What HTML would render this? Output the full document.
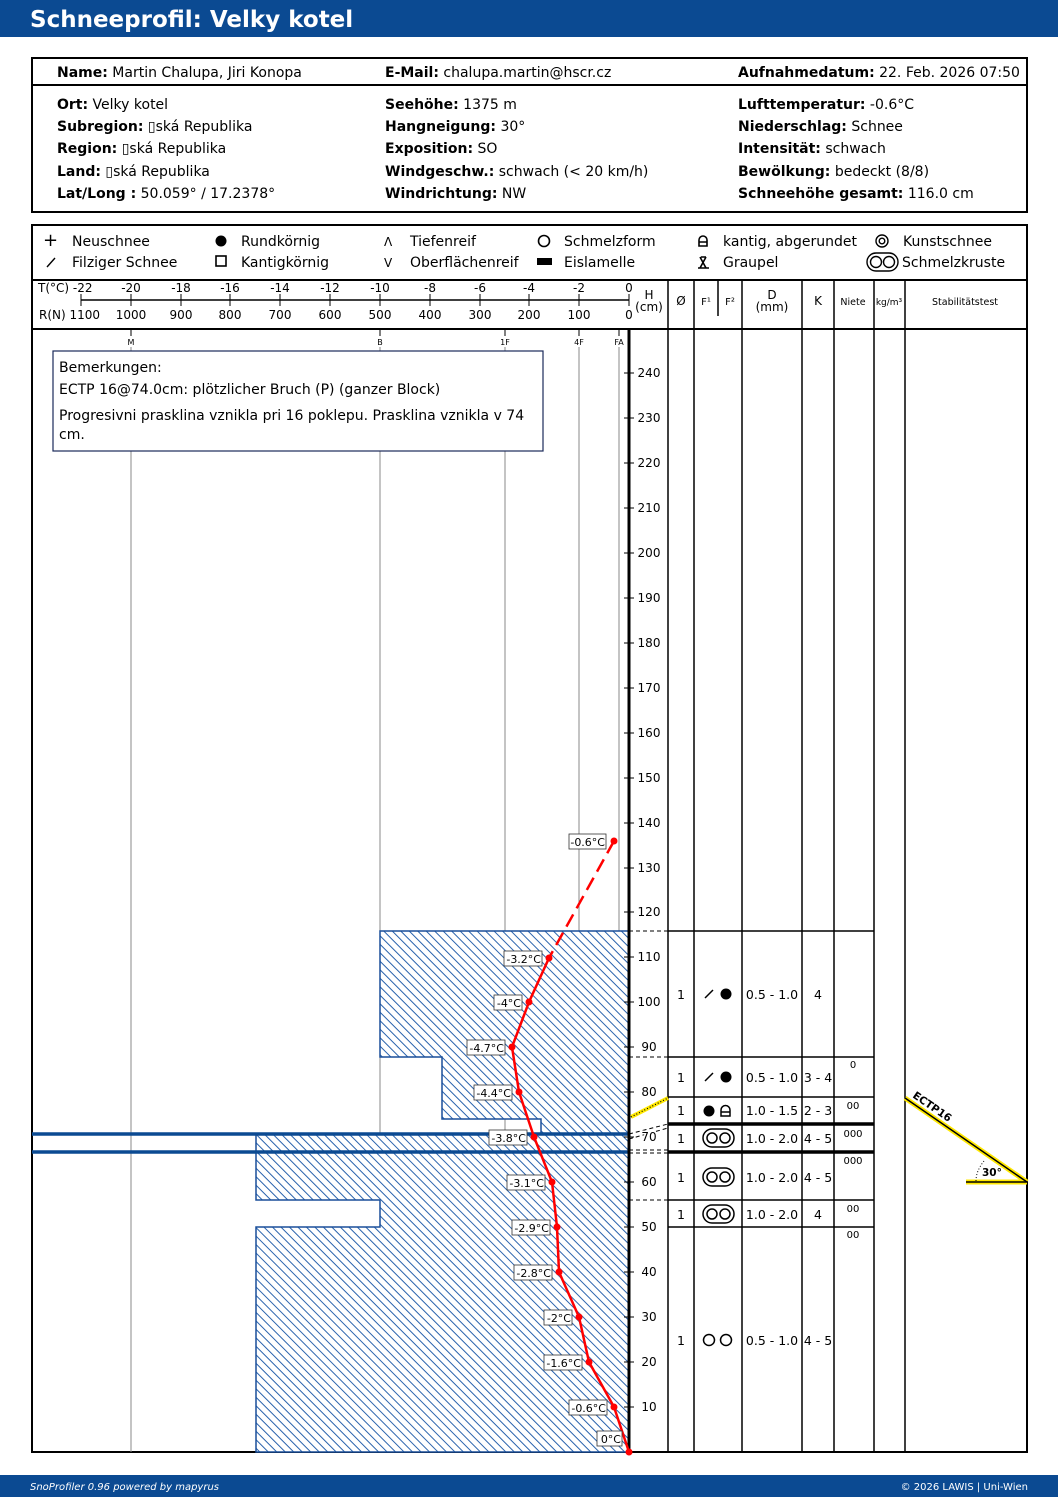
<!DOCTYPE html>
<html><head><meta charset="utf-8"><style>
html,body{margin:0;padding:0;background:#fff}
svg{display:block}
text{font-family:"DejaVu Sans","Liberation Sans",sans-serif;fill:#000}
</style></head><body>
<svg width="1058" height="1497" viewBox="0 0 1058 1497" xmlns="http://www.w3.org/2000/svg">
<defs>
<pattern id="h" patternUnits="userSpaceOnUse" width="6" height="6" patternTransform="rotate(45)">
<rect width="6" height="6" fill="#fff"/>
<line x1="0" y1="3" x2="6" y2="3" stroke="#2a63ad" stroke-width="1"/>
</pattern>
</defs>
<rect x="0" y="0" width="1058" height="37" fill="#0b4a92"/>
<text x="30" y="27" font-size="23" font-weight="bold" style="fill:#fff">Schneeprofil: Velky kotel</text>
<rect x="0" y="1475" width="1058" height="22" fill="#0b4a92"/>
<text x="30" y="1490" font-size="10" font-style="italic" style="fill:#fff">SnoProfiler 0.96 powered by mapyrus</text>
<text x="1028" y="1490" font-size="10" text-anchor="end" style="fill:#fff">© 2026 LAWIS | Uni-Wien</text>

<rect x="32" y="58" width="995" height="154" fill="none" stroke="#000" stroke-width="2"/>
<line x1="32" y1="85" x2="1027" y2="85" stroke="#000" stroke-width="2"/>
<g font-size="14">
<text x="57" y="77"><tspan font-weight="bold">Name:</tspan> Martin Chalupa, Jiri Konopa</text>
<text x="385" y="77"><tspan font-weight="bold">E-Mail:</tspan> chalupa.martin@hscr.cz</text>
<text x="738" y="77"><tspan font-weight="bold">Aufnahmedatum:</tspan> 22. Feb. 2026 07:50</text>
<text x="57" y="109"><tspan font-weight="bold">Ort:</tspan> Velky kotel</text>
<text x="57" y="131"><tspan font-weight="bold">Subregion:</tspan> ▯ská Republika</text>
<text x="57" y="153"><tspan font-weight="bold">Region:</tspan> ▯ská Republika</text>
<text x="57" y="176"><tspan font-weight="bold">Land:</tspan> ▯ská Republika</text>
<text x="57" y="198"><tspan font-weight="bold">Lat/Long :</tspan> 50.059° / 17.2378°</text>
<text x="385" y="109"><tspan font-weight="bold">Seehöhe:</tspan> 1375 m</text>
<text x="385" y="131"><tspan font-weight="bold">Hangneigung:</tspan> 30°</text>
<text x="385" y="153"><tspan font-weight="bold">Exposition:</tspan> SO</text>
<text x="385" y="176"><tspan font-weight="bold">Windgeschw.:</tspan> schwach (&lt; 20 km/h)</text>
<text x="385" y="198"><tspan font-weight="bold">Windrichtung:</tspan> NW</text>
<text x="738" y="109"><tspan font-weight="bold">Lufttemperatur:</tspan> -0.6°C</text>
<text x="738" y="131"><tspan font-weight="bold">Niederschlag:</tspan> Schnee</text>
<text x="738" y="153"><tspan font-weight="bold">Intensität:</tspan> schwach</text>
<text x="738" y="176"><tspan font-weight="bold">Bewölkung:</tspan> bedeckt (8/8)</text>
<text x="738" y="198"><tspan font-weight="bold">Schneehöhe gesamt:</tspan> 116.0 cm</text>
</g>

<g font-size="14">
<text x="43" y="246" font-size="18">+</text><text x="72" y="246">Neuschnee</text>
<line x1="47" y1="267" x2="55" y2="258" stroke="#000" stroke-width="1.4"/><text x="72" y="267">Filziger Schnee</text>
<circle cx="221" cy="241" r="5.5"/><text x="241" y="246">Rundkörnig</text>
<rect x="216" y="256" width="10" height="10" fill="none" stroke="#000" stroke-width="1.6"/><text x="241" y="267">Kantigkörnig</text>
<text x="384" y="246" font-size="12">Λ</text><text x="410" y="246">Tiefenreif</text>
<text x="384" y="267" font-size="12">V</text><text x="410" y="267">Oberflächenreif</text>
<circle cx="544" cy="241" r="5.5" fill="none" stroke="#000" stroke-width="1.6"/><text x="564" y="246">Schmelzform</text>
<rect x="537" y="258" width="15" height="7"/><text x="564" y="267">Eislamelle</text>
<path d="M699 246v-6a4 4 0 0 1 8 0v6zM699 242h8" fill="none" stroke="#000" stroke-width="1.6"/><text x="723" y="246">kantig, abgerundet</text>
<path d="M698 268h11M700 257l6 11M706 257l-6 11M701 257h5" stroke="#000" stroke-width="1.6"/><text x="723" y="267">Graupel</text>
<circle cx="882" cy="241" r="6" fill="none" stroke="#000" stroke-width="1.4"/><circle cx="882" cy="241" r="2.8" fill="none" stroke="#000" stroke-width="1.4"/><text x="903" y="246">Kunstschnee</text>
<rect x="867" y="253" width="31" height="18" rx="9" fill="none" stroke="#000" stroke-width="1.4"/><circle cx="876" cy="262" r="5.5" fill="none" stroke="#000" stroke-width="1.4"/><circle cx="889" cy="262" r="5.5" fill="none" stroke="#000" stroke-width="1.4"/><text x="902" y="267">Schmelzkruste</text>
</g>

<rect x="32" y="225" width="995" height="1227" fill="none" stroke="#000" stroke-width="2"/>
<line x1="32" y1="280" x2="1027" y2="280" stroke="#000" stroke-width="2"/>
<line x1="32" y1="329" x2="1027" y2="329" stroke="#000" stroke-width="2"/>

<line x1="81" y1="300" x2="629" y2="300" stroke="#000" stroke-width="1.5"/>
<g stroke="#000" stroke-width="1">
<line x1="81" y1="294" x2="81" y2="306"/><line x1="131" y1="294" x2="131" y2="306"/><line x1="181" y1="294" x2="181" y2="306"/><line x1="230" y1="294" x2="230" y2="306"/><line x1="280" y1="294" x2="280" y2="306"/><line x1="330" y1="294" x2="330" y2="306"/><line x1="380" y1="294" x2="380" y2="306"/><line x1="430" y1="294" x2="430" y2="306"/><line x1="480" y1="294" x2="480" y2="306"/><line x1="529" y1="294" x2="529" y2="306"/><line x1="579" y1="294" x2="579" y2="306"/><line x1="629" y1="294" x2="629" y2="306"/>
</g>
<g font-size="12" text-anchor="middle">
<text x="38" y="292" text-anchor="start">T(°C) -22</text><text x="131" y="292">-20</text><text x="181" y="292">-18</text><text x="230" y="292">-16</text><text x="280" y="292">-14</text><text x="330" y="292">-12</text><text x="380" y="292">-10</text><text x="430" y="292">-8</text><text x="480" y="292">-6</text><text x="529" y="292">-4</text><text x="579" y="292">-2</text><text x="629" y="292">0</text>
<text x="39" y="319" text-anchor="start">R(N) 1100</text><text x="131" y="319">1000</text><text x="181" y="319">900</text><text x="230" y="319">800</text><text x="280" y="319">700</text><text x="330" y="319">600</text><text x="380" y="319">500</text><text x="430" y="319">400</text><text x="480" y="319">300</text><text x="529" y="319">200</text><text x="579" y="319">100</text><text x="629" y="319">0</text>
<text x="649" y="299">H</text><text x="649" y="311">(cm)</text>
<text x="681" y="305">Ø</text>
<text x="706" y="305" font-size="10">F¹</text><text x="730" y="305" font-size="10">F²</text>
<text x="772" y="299">D</text><text x="772" y="311">(mm)</text>
<text x="818" y="305">K</text>
<text x="853" y="305" font-size="9.5">Niete</text>
<text x="889" y="305" font-size="9">kg/m³</text>
<text x="965" y="305" font-size="9.5">Stabilitätstest</text>
</g>
<line x1="718" y1="280" x2="718" y2="316" stroke="#000" stroke-width="1.5"/>

<g stroke="#888" stroke-width="1">
<line x1="131" y1="347" x2="131" y2="1452"/><line x1="380" y1="347" x2="380" y2="1452"/><line x1="505" y1="347" x2="505" y2="1452"/><line x1="579" y1="347" x2="579" y2="1452"/><line x1="619" y1="347" x2="619" y2="1452"/>
</g>
<g stroke="#000" stroke-width="1"><line x1="131" y1="329" x2="131" y2="336"/><line x1="380" y1="329" x2="380" y2="336"/><line x1="505" y1="329" x2="505" y2="336"/><line x1="579" y1="329" x2="579" y2="336"/><line x1="619" y1="329" x2="619" y2="336"/></g>
<g font-size="8" text-anchor="middle"><text x="131" y="345">M</text><text x="380" y="345">B</text><text x="505" y="345">1F</text><text x="579" y="345">4F</text><text x="619" y="345">FA</text></g>

<path d="M380 931H629V1452H256V1227H380V1200H256V1134H541V1119H442V1057H380Z" fill="url(#h)" stroke="#1a4f9a" stroke-width="1.5"/>
<line x1="32" y1="1134" x2="629" y2="1134" stroke="#0b4a92" stroke-width="3.5"/>
<line x1="32" y1="1152" x2="629" y2="1152" stroke="#0b4a92" stroke-width="3.5"/>

<rect x="53" y="351" width="490" height="100" fill="#fff" stroke="#1a2a5a" stroke-width="1.2"/>
<g font-size="14"><text x="59" y="372">Bemerkungen:</text><text x="59" y="394">ECTP 16@74.0cm: plötzlicher Bruch (P) (ganzer Block)</text><text x="59" y="420">Progresivni prasklina vznikla pri 16 poklepu. Prasklina vznikla v 74</text><text x="59" y="439">cm.</text></g>

<g stroke="#000" stroke-width="1.5">
<line x1="629" y1="329" x2="629" y2="1452" stroke-width="3"/>
<line x1="668" y1="280" x2="668" y2="1452"/><line x1="694" y1="280" x2="694" y2="1452"/><line x1="742" y1="280" x2="742" y2="1452"/><line x1="802" y1="280" x2="802" y2="1452"/><line x1="834" y1="280" x2="834" y2="1452"/><line x1="874" y1="280" x2="874" y2="1452"/><line x1="905" y1="280" x2="905" y2="1452"/>
</g>
<g stroke="#000" stroke-width="1.5">
<line x1="668" y1="931" x2="874" y2="931"/><line x1="668" y1="1057" x2="874" y2="1057"/><line x1="668" y1="1097" x2="874" y2="1097"/>
<line x1="668" y1="1124" x2="874" y2="1124" stroke-width="3.5"/><line x1="668" y1="1152" x2="874" y2="1152" stroke-width="3.5"/>
<line x1="668" y1="1200" x2="874" y2="1200"/><line x1="668" y1="1227" x2="874" y2="1227"/>
</g>
<g stroke="#000" stroke-width="1" stroke-dasharray="4,3">
<line x1="629" y1="931" x2="668" y2="931"/><line x1="629" y1="1057" x2="668" y2="1057"/><line x1="629" y1="1134" x2="668" y2="1124"/><line x1="629" y1="1139" x2="668" y2="1128"/><line x1="629" y1="1150" x2="668" y2="1150"/><line x1="629" y1="1153" x2="668" y2="1153"/><line x1="629" y1="1200" x2="668" y2="1200"/>
</g>
<line x1="631" y1="1117" x2="668" y2="1098" stroke="#ffe800" stroke-width="4"/>
<line x1="631" y1="1117" x2="668" y2="1098" stroke="#000" stroke-width="1.2" stroke-dasharray="1,2"/>

<g stroke="#000" stroke-width="1">
<line x1="624" y1="1407" x2="634" y2="1407"/><line x1="624" y1="1362" x2="634" y2="1362"/><line x1="624" y1="1317" x2="634" y2="1317"/><line x1="624" y1="1272" x2="634" y2="1272"/><line x1="624" y1="1227" x2="634" y2="1227"/><line x1="624" y1="1182" x2="634" y2="1182"/><line x1="624" y1="1137" x2="634" y2="1137"/><line x1="624" y1="1092" x2="634" y2="1092"/><line x1="624" y1="1047" x2="634" y2="1047"/><line x1="624" y1="1002" x2="634" y2="1002"/><line x1="624" y1="957" x2="634" y2="957"/><line x1="624" y1="912" x2="634" y2="912"/><line x1="624" y1="868" x2="634" y2="868"/><line x1="624" y1="823" x2="634" y2="823"/><line x1="624" y1="778" x2="634" y2="778"/><line x1="624" y1="733" x2="634" y2="733"/><line x1="624" y1="688" x2="634" y2="688"/><line x1="624" y1="643" x2="634" y2="643"/><line x1="624" y1="598" x2="634" y2="598"/><line x1="624" y1="553" x2="634" y2="553"/><line x1="624" y1="508" x2="634" y2="508"/><line x1="624" y1="463" x2="634" y2="463"/><line x1="624" y1="418" x2="634" y2="418"/><line x1="624" y1="373" x2="634" y2="373"/>
</g>
<g font-size="12" text-anchor="middle">
<text x="649" y="1411">10</text><text x="649" y="1366">20</text><text x="649" y="1321">30</text><text x="649" y="1276">40</text><text x="649" y="1231" style="paint-order:stroke;stroke:#fff;stroke-width:3">50</text><text x="649" y="1186">60</text><text x="649" y="1141" style="paint-order:stroke;stroke:#fff;stroke-width:3">70</text><text x="649" y="1096">80</text><text x="649" y="1051">90</text><text x="649" y="1006">100</text><text x="649" y="961">110</text><text x="649" y="916">120</text><text x="649" y="872">130</text><text x="649" y="827">140</text><text x="649" y="782">150</text><text x="649" y="737">160</text><text x="649" y="692">170</text><text x="649" y="647">180</text><text x="649" y="602">190</text><text x="649" y="557">200</text><text x="649" y="512">210</text><text x="649" y="467">220</text><text x="649" y="422">230</text><text x="649" y="377">240</text>
</g>

<line x1="614" y1="841" x2="549" y2="958" stroke="#f00" stroke-width="2.5" stroke-dasharray="14,7"/>
<polyline points="549,958 529,1002 512,1047 519,1092 534,1137 552,1182 557,1227 559,1272 579,1317 589,1362 614,1407 629,1452" fill="none" stroke="#f00" stroke-width="2.5"/>
<g fill="#f00"><circle cx="614" cy="841" r="3.5"/><circle cx="549" cy="958" r="3.5"/><circle cx="529" cy="1002" r="3.5"/><circle cx="512" cy="1047" r="3.5"/><circle cx="519" cy="1092" r="3.5"/><circle cx="534" cy="1137" r="3.5"/><circle cx="552" cy="1182" r="3.5"/><circle cx="557" cy="1227" r="3.5"/><circle cx="559" cy="1272" r="3.5"/><circle cx="579" cy="1317" r="3.5"/><circle cx="589" cy="1362" r="3.5"/><circle cx="614" cy="1407" r="3.5"/><circle cx="629" cy="1452" r="3.5"/></g>
<g stroke="#333" stroke-width="0.8">
<rect x="569" y="834" width="37" height="15" fill="#fff"/><rect x="504" y="951" width="38" height="15" fill="#fff"/><rect x="494" y="995" width="28" height="15" fill="#fff"/><rect x="467" y="1040" width="38" height="15" fill="#fff"/><rect x="474" y="1085" width="38" height="15" fill="#fff"/><rect x="489" y="1130" width="38" height="15" fill="#fff"/><rect x="507" y="1175" width="38" height="15" fill="#fff"/><rect x="512" y="1220" width="38" height="15" fill="#fff"/><rect x="514" y="1265" width="38" height="15" fill="#fff"/><rect x="544" y="1310" width="28" height="15" fill="#fff"/><rect x="544" y="1355" width="38" height="15" fill="#fff"/><rect x="569" y="1400" width="38" height="15" fill="#fff"/><rect x="597" y="1431" width="25" height="15" fill="#fff"/>
</g>
<g font-size="11" text-anchor="end">
<text x="605" y="846">-0.6°C</text><text x="541" y="963">-3.2°C</text><text x="521" y="1007">-4°C</text><text x="504" y="1052">-4.7°C</text><text x="511" y="1097">-4.4°C</text><text x="526" y="1142">-3.8°C</text><text x="544" y="1187">-3.1°C</text><text x="549" y="1232">-2.9°C</text><text x="551" y="1277">-2.8°C</text><text x="571" y="1322">-2°C</text><text x="581" y="1367">-1.6°C</text><text x="606" y="1412">-0.6°C</text><text x="621" y="1443">0°C</text>
</g>

<g font-size="12.5" text-anchor="middle">
<text x="681" y="999">1</text><text x="772" y="999">0.5 - 1.0</text><text x="818" y="999">4</text>
<text x="681" y="1082">1</text><text x="772" y="1082">0.5 - 1.0</text><text x="818" y="1082">3 - 4</text>
<text x="681" y="1115">1</text><text x="772" y="1115">1.0 - 1.5</text><text x="818" y="1115">2 - 3</text>
<text x="681" y="1143">1</text><text x="772" y="1143">1.0 - 2.0</text><text x="818" y="1143">4 - 5</text>
<text x="681" y="1182">1</text><text x="772" y="1182">1.0 - 2.0</text><text x="818" y="1182">4 - 5</text>
<text x="681" y="1219">1</text><text x="772" y="1219">1.0 - 2.0</text><text x="818" y="1219">4</text>
<text x="681" y="1345">1</text><text x="772" y="1345">0.5 - 1.0</text><text x="818" y="1345">4 - 5</text>
</g>
<g font-size="10" text-anchor="middle">
<text x="853" y="1068">0</text><text x="853" y="1109">00</text><text x="853" y="1137">000</text><text x="853" y="1164">000</text><text x="853" y="1212">00</text><text x="853" y="1238">00</text>
</g>
<g stroke="#000" stroke-width="1.5" fill="none">
<line x1="705" y1="998" x2="713" y2="990"/><line x1="705" y1="1081" x2="713" y2="1073"/>
<path d="M721 1116v-6a4 4 0 0 1 9 0v6zM721 1112h9"/>
<rect x="703" y="1129" width="31" height="18" rx="9"/><circle cx="712" cy="1138" r="5"/><circle cx="725" cy="1138" r="5"/>
<rect x="703" y="1168" width="31" height="18" rx="9"/><circle cx="712" cy="1177" r="5"/><circle cx="725" cy="1177" r="5"/>
<rect x="703" y="1205" width="31" height="18" rx="9"/><circle cx="712" cy="1214" r="5"/><circle cx="725" cy="1214" r="5"/>
<circle cx="709" cy="1340" r="5.5"/><circle cx="726" cy="1340" r="5.5"/>
</g>
<circle cx="726" cy="994" r="5.5"/><circle cx="726" cy="1077" r="5.5"/><circle cx="709" cy="1111" r="5.5"/>

<line x1="905" y1="1098" x2="1027" y2="1182" stroke="#ffe800" stroke-width="5"/>
<line x1="966" y1="1182" x2="1027" y2="1182" stroke="#ffe800" stroke-width="5"/>
<line x1="905" y1="1098" x2="1027" y2="1182" stroke="#000" stroke-width="1.5"/>
<line x1="966" y1="1182" x2="1027" y2="1182" stroke="#000" stroke-width="1.5"/>
<path d="M976 1181q0-10 8-20" fill="none" stroke="#000" stroke-width="1" stroke-dasharray="1,2"/>
<text x="982" y="1176" font-size="10.5" font-weight="bold">30°</text>
<text x="912" y="1097" font-size="10.5" font-weight="bold" transform="rotate(34.5 912 1097)">ECTP16</text>
</svg>
</body></html>
